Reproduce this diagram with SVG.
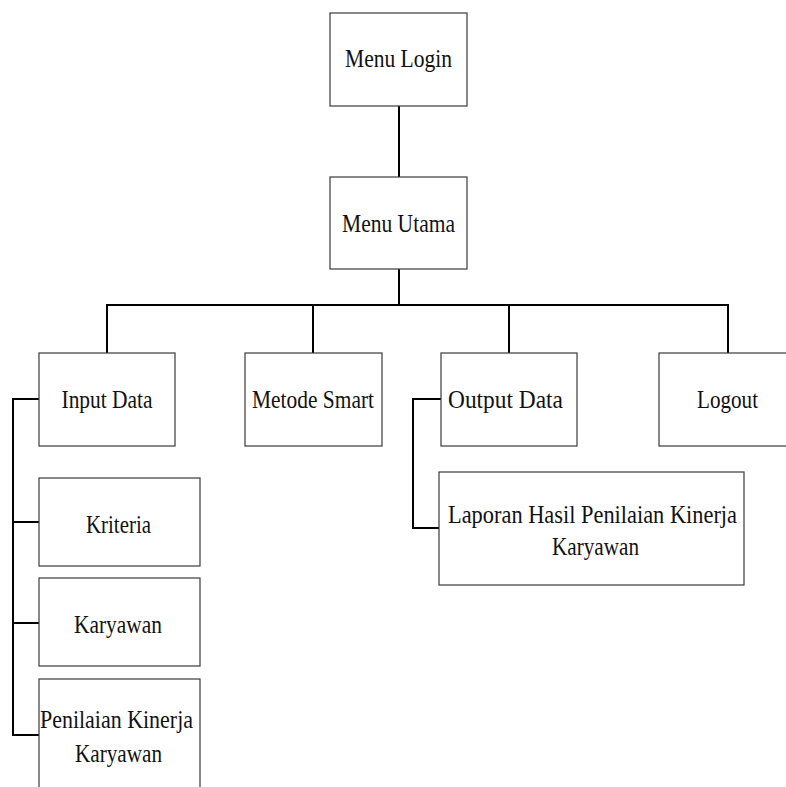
<svg xmlns="http://www.w3.org/2000/svg" width="786" height="787" viewBox="0 0 786 787">
  <style>
    .box { fill: #ffffff; stroke: #3a3a3a; stroke-width: 1.2; }
    .lbl { font-family: "Liberation Serif", "Times New Roman", serif; font-size: 26px; fill: #111111; text-anchor: middle; }
    .wire { fill: none; stroke: #000000; stroke-width: 2; }
  </style>
  <rect width="786" height="787" fill="#ffffff"/>

  <!-- connectors -->
  <g id="connectors">
    <line class="wire" x1="399" y1="106" x2="399" y2="177"/>
    <line class="wire" x1="399" y1="269" x2="399" y2="305"/>
    <polyline class="wire" points="107,353 107,305 728,305 728,353"/>
    <line class="wire" x1="313" y1="305" x2="313" y2="353"/>
    <line class="wire" x1="509" y1="305" x2="509" y2="353"/>
    <!-- Input Data sub-items -->
    <polyline class="wire" points="39,399 13,399 13,735 39,735"/>
    <line class="wire" x1="13" y1="522" x2="39" y2="522"/>
    <line class="wire" x1="13" y1="623" x2="39" y2="623"/>
    <!-- Output Data sub-item -->
    <polyline class="wire" points="441,399 413,399 413,528 439,528"/>
  </g>

  <g id="menu-login">
    <rect class="box" x="330" y="13" width="137" height="93"/>
    <text class="lbl" x="398.5" y="67" textLength="107" lengthAdjust="spacingAndGlyphs">Menu Login</text>
  </g>
  <g id="menu-utama">
    <rect class="box" x="330" y="177" width="137" height="92"/>
    <text class="lbl" x="398.5" y="232" textLength="113" lengthAdjust="spacingAndGlyphs">Menu Utama</text>
  </g>
  <g id="input-data">
    <rect class="box" x="39" y="353" width="136" height="93"/>
    <text class="lbl" x="107" y="408" textLength="91" lengthAdjust="spacingAndGlyphs">Input Data</text>
  </g>
  <g id="metode-smart">
    <rect class="box" x="245" y="353" width="137" height="93"/>
    <text class="lbl" x="313" y="408" textLength="122" lengthAdjust="spacingAndGlyphs">Metode Smart</text>
  </g>
  <g id="output-data">
    <rect class="box" x="441" y="353" width="136" height="93"/>
    <text class="lbl" x="505.5" y="408" textLength="115" lengthAdjust="spacingAndGlyphs">Output Data</text>
  </g>
  <g id="logout">
    <rect class="box" x="659" y="353" width="140" height="93"/>
    <text class="lbl" x="727.5" y="408" textLength="61" lengthAdjust="spacingAndGlyphs">Logout</text>
  </g>
  <g id="laporan">
    <rect class="box" x="439" y="472" width="305" height="113"/>
    <text class="lbl" x="592.5" y="523" textLength="289" lengthAdjust="spacingAndGlyphs">Laporan Hasil Penilaian Kinerja</text>
    <text class="lbl" x="595.5" y="555" textLength="87" lengthAdjust="spacingAndGlyphs">Karyawan</text>
  </g>
  <g id="kriteria">
    <rect class="box" x="39" y="478" width="161" height="88"/>
    <text class="lbl" x="118.5" y="533" textLength="65" lengthAdjust="spacingAndGlyphs">Kriteria</text>
  </g>
  <g id="karyawan">
    <rect class="box" x="39" y="578" width="161" height="88"/>
    <text class="lbl" x="118" y="633" textLength="88" lengthAdjust="spacingAndGlyphs">Karyawan</text>
  </g>
  <g id="penilaian-kinerja">
    <rect class="box" x="39" y="679" width="161" height="120"/>
    <text class="lbl" x="116.5" y="728" textLength="153" lengthAdjust="spacingAndGlyphs">Penilaian Kinerja</text>
    <text class="lbl" x="118.5" y="762" textLength="87" lengthAdjust="spacingAndGlyphs">Karyawan</text>
  </g>
</svg>
